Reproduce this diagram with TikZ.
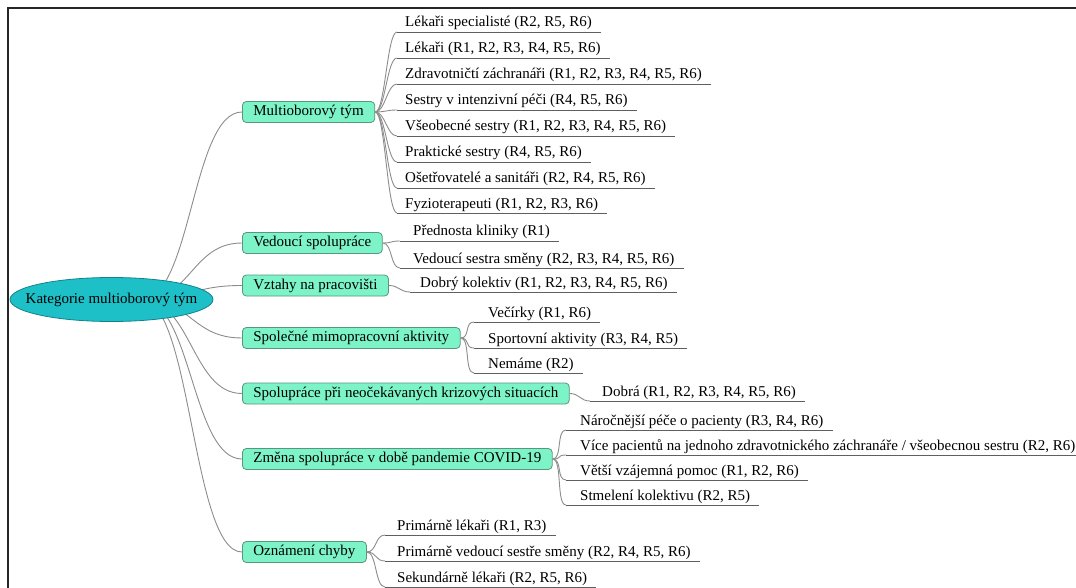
\documentclass[tikz,border=0pt]{standalone}
\usepackage{fontspec}
\setmainfont{Liberation Serif}
\usetikzlibrary{calc,backgrounds,shapes.geometric}
\definecolor{boxfill}{RGB}{125,243,200}
\definecolor{boxline}{RGB}{90,150,125}
\definecolor{rootfill}{RGB}{30,192,200}
\definecolor{rootline}{RGB}{20,130,140}
\definecolor{connc}{RGB}{140,140,140}
\definecolor{ulc}{RGB}{95,95,95}
\newcommand\leafconn[3]{\draw[conn] (#1.east) .. controls +(10,0) and +(-10,0) .. ($(#2.base west)+(-#3,5)$);
  \draw[uline] ($(#2.base west)+(-#3,5)$) -- ($(#2.base east)+(9,5)$);}
\begin{document}
\begin{tikzpicture}[x=1pt,y=-1pt,
  every node/.style={font=\fontsize{15}{18}\selectfont},
  rootnode/.style={ellipse, draw=rootline, fill=rootfill, line width=0.8pt, minimum width=203pt, minimum height=44pt, inner sep=0pt},
  cat/.style={draw=boxline, fill=boxfill, rounded corners=4pt, line width=0.8pt, anchor=west, inner xsep=11pt, inner ysep=2pt, minimum height=21pt, text height=10.5pt, text depth=3.5pt},
  leaf/.style={anchor=base west, inner sep=0pt},
  conn/.style={draw=connc, line width=0.9pt},
  uline/.style={draw=ulc, line width=0.9pt}]
\useasboundingbox (0,0) rectangle (1076,588);
\draw[line width=2pt, black!85] (8,588) -- (8,8.5) -- (1076,8.5);

\node[rootnode] (root) at (111.5,299.5) {\makebox[0pt]{Kategorie multioborový tým}};
\node[cat] (m1) at (242,112) {Multioborový tým};
\node[cat] (m2) at (242,243) {Vedoucí spolupráce};
\node[cat] (m3) at (242,285.5) {Vztahy na pracovišti};
\node[cat] (m4) at (242,338) {Společné mimopracovní aktivity};
\node[cat] (m5) at (242,393.5) {Spolupráce při neočekávaných krizových situacích};
\node[cat] (m6) at (242,459) {Změna spolupráce v době pandemie COVID-19};
\node[cat] (m7) at (242,552) {Oznámení chyby};

\node[leaf] (c11) at (405,27) {Lékaři specialisté (R2, R5, R6)};
\node[leaf] (c12) at (405,53) {Lékaři (R1, R2, R3, R4, R5, R6)};
\node[leaf] (c13) at (405,79) {Zdravotničtí záchranáři (R1, R2, R3, R4, R5, R6)};
\node[leaf] (c14) at (405,105) {Sestry v intenzivní péči (R4, R5, R6)};
\node[leaf] (c15) at (405,131) {Všeobecné sestry (R1, R2, R3, R4, R5, R6)};
\node[leaf] (c16) at (405,157) {Praktické sestry (R4, R5, R6)};
\node[leaf] (c17) at (405,183) {Ošetřovatelé a sanitáři (R2, R4, R5, R6)};
\node[leaf] (c18) at (405,208) {Fyzioterapeuti (R1, R2, R3, R6)};

\node[leaf] (c21) at (413,236) {Přednosta kliniky (R1)};
\node[leaf] (c22) at (413,263) {Vedoucí sestra směny (R2, R3, R4, R5, R6)};

\node[leaf] (c31) at (420,287) {Dobrý kolektiv (R1, R2, R3, R4, R5, R6)};

\node[leaf] (c41) at (488,317) {Večírky (R1, R6)};
\node[leaf] (c42) at (488,343) {Sportovní aktivity (R3, R4, R5)};
\node[leaf] (c43) at (488,368) {Nemáme (R2)};

\node[leaf] (c51) at (602,396) {Dobrá (R1, R2, R3, R4, R5, R6)};

\node[leaf] (c61) at (580,425) {Náročnější péče o pacienty (R3, R4, R6)};
\node[leaf] (c62) at (580,450) {Více pacientů na jednoho zdravotnického záchranáře / všeobecnou sestru (R2, R6)};
\node[leaf] (c63) at (580,475) {Větší vzájemná pomoc (R1, R2, R6)};
\node[leaf] (c64) at (580,500) {Stmelení kolektivu (R2, R5)};

\node[leaf] (c71) at (397,530) {Primárně lékaři (R1, R3)};
\node[leaf] (c72) at (397,556) {Primárně vedoucí sestře směny (R2, R4, R5, R6)};
\node[leaf] (c73) at (397,582) {Sekundárně lékaři (R2, R5, R6)};

\begin{scope}[on background layer]
\coordinate (hub) at ($(root.center)+(30,0)$);
\foreach \m in {m1,m2,m3,m4,m5,m6,m7}{
  \draw[conn] (hub) .. controls +(50,0) and +(-50,0) .. (\m.west);
}
\end{scope}

\foreach \c in {c11,c12,c13,c14,c15,c16,c17,c18}{\leafconn{m1}{\c}{8}}
\foreach \c in {c21,c22}{\leafconn{m2}{\c}{13}}
\leafconn{m3}{c31}{10}
\foreach \c in {c41,c42,c43}{\leafconn{m4}{\c}{14}}
\leafconn{m5}{c51}{12}
\foreach \c in {c61,c62,c63,c64}{\leafconn{m6}{\c}{14}}
\foreach \c in {c71,c72,c73}{\leafconn{m7}{\c}{12}}
\end{tikzpicture}
\end{document}
